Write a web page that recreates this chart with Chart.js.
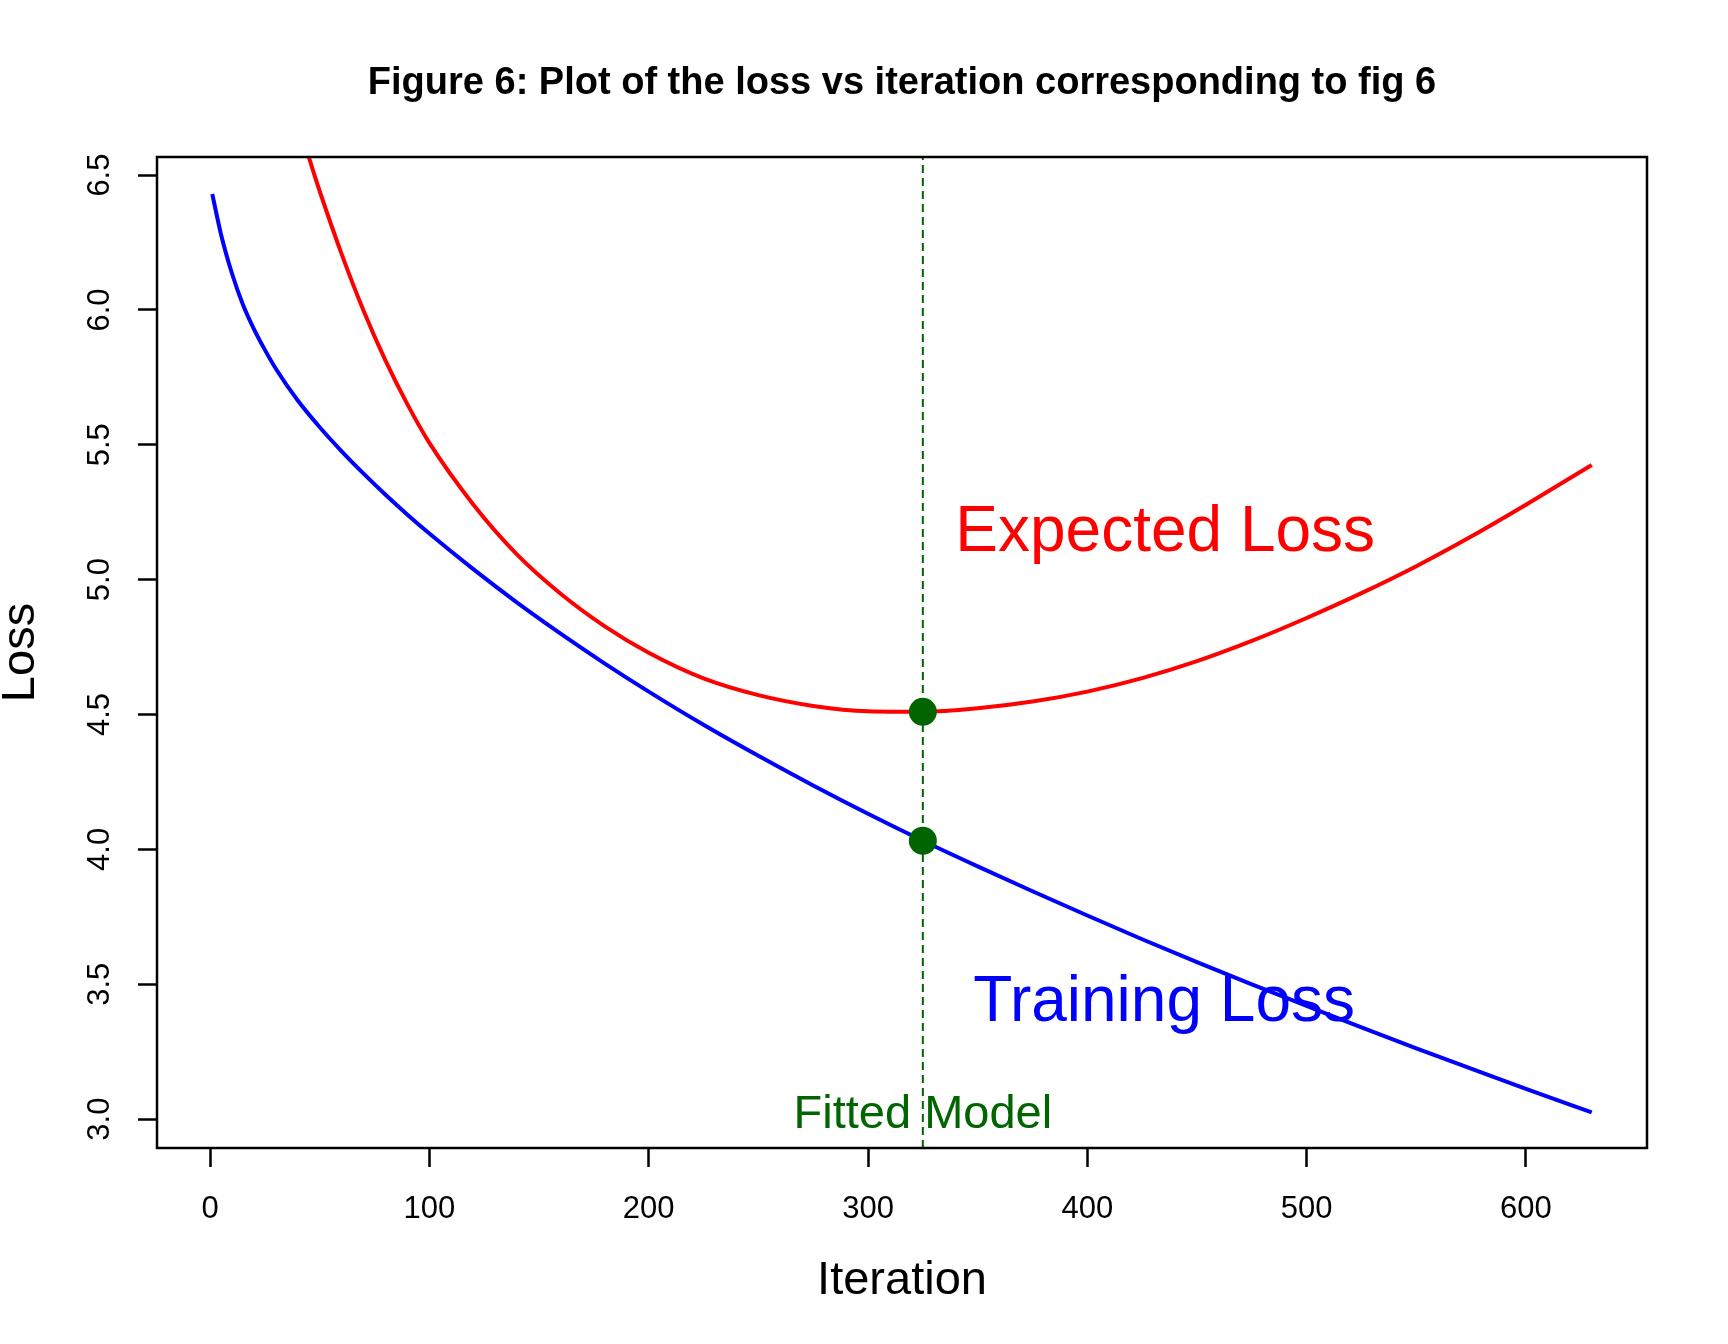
<!DOCTYPE html>
<html>
<head>
<meta charset="utf-8">
<title>Figure 6: loss vs iteration</title>
<script src="https://cdn.jsdelivr.net/npm/chart.js@4.4.1/dist/chart.umd.min.js"></script>
<style>
  html, body { margin: 0; padding: 0; background: #fff; }
  #wrap { width: 1728px; height: 1344px; }
</style>
</head>
<body>
<div id="wrap"><canvas id="loss-chart" width="1728" height="1344"></canvas></div>
<script>
// Values
const iterations = [1, 5, 10, 15, 20, 25, 30, 40, 50, 60, 70, 80, 90, 100, 120, 140, 160, 180, 200,
    225, 250, 275, 300, 325, 350, 375, 400, 425, 450, 475, 500, 525, 550, 575, 600, 630];
const trainingLoss = [6.43, 6.28, 6.135, 6.019, 5.929, 5.852, 5.782, 5.664, 5.565, 5.476, 5.393, 5.315,
    5.241, 5.171, 5.039, 4.915, 4.799, 4.689, 4.585, 4.462, 4.347, 4.237, 4.132, 4.032, 3.937, 3.845,
    3.755, 3.667, 3.582, 3.5, 3.42, 3.34, 3.262, 3.187, 3.112, 3.025];

// expected loss runs off the top of the plot before iteration ~45
const expectedIterations = [45, 50, 60, 70, 80, 90, 100, 120, 140, 160, 180, 200, 225, 250, 275, 300,
    325, 350, 375, 400, 425, 450, 475, 500, 525, 550, 575, 600, 630];
const expectedLoss = [6.567, 6.44, 6.207, 5.997, 5.812, 5.65, 5.507, 5.279, 5.093, 4.947, 4.827, 4.729,
    4.634, 4.572, 4.532, 4.512, 4.51, 4.523, 4.548, 4.585, 4.635, 4.698, 4.773, 4.858, 4.95, 5.05, 5.16,
    5.278, 5.425];

const fittedIteration = 325;
const fittedLoss = [4.51, 4.032];

const xTicks = [0, 100, 200, 300, 400, 500, 600];
const yTicks = [3.0, 3.5, 4.0, 4.5, 5.0, 5.5, 6.0, 6.5];

// axis limits (R style 4% extension around the training loss range)
const xLimits = [-24.2, 655.2];
const yLimits = [2.893, 6.567];

const FONT = '"Liberation Sans", Arial, sans-serif';
const DARKGREEN = '#006400';

// text() labels, centred on a point in data coordinates
const plotLabels = [
    { text: 'Expected Loss', x: 435.5, y: 5.193, color: '#FF0000', size: 64 },
    { text: 'Training Loss', x: 435, y: 3.45, color: '#0000FF', size: 64 },
    { text: 'Fitted Model', x: fittedIteration, y: 3.028, color: DARKGREEN, size: 47 }
];

function toPoints(xs, ys) {
    return xs.map((x, i) => ({ x: x, y: ys[i] }));
}

// box around the plot region
const boxPlugin = {
    id: 'plotBox',
    afterDatasetsDraw(chart) {
        const { ctx, chartArea: a } = chart;
        ctx.save();
        ctx.strokeStyle = '#000';
        ctx.lineWidth = 2.5;
        ctx.strokeRect(a.left, a.top, a.right - a.left, a.bottom - a.top);
        ctx.restore();
    }
};

const labelPlugin = {
    id: 'plotLabels',
    afterDraw(chart) {
        const { ctx, scales } = chart;
        ctx.save();
        ctx.textAlign = 'center';
        ctx.textBaseline = 'alphabetic';
        plotLabels.forEach(l => {
            ctx.font = l.size + 'px ' + FONT;
            ctx.fillStyle = l.color;
            // centre on cap height like R does
            const y = scales.y.getPixelForValue(l.y) + l.size * 0.358;
            ctx.fillText(l.text, scales.x.getPixelForValue(l.x), y);
        });
        ctx.restore();
    }
};

Chart.defaults.font.family = FONT;
Chart.defaults.color = '#000';

new Chart(document.getElementById('loss-chart'), {
    type: 'line',
    data: {
        datasets: [{
            label: 'Fitted points',
            data: fittedLoss.map(v => ({ x: fittedIteration, y: v })),
            showLine: false,
            pointRadius: 14,
            pointBackgroundColor: DARKGREEN,
            pointBorderWidth: 0,
            order: 0
        }, {
            label: 'Fitted model',
            data: [{ x: fittedIteration, y: yLimits[0] }, { x: fittedIteration, y: yLimits[1] }],
            borderColor: DARKGREEN,
            borderWidth: 2,
            borderDash: [8, 5],
            pointRadius: 0,
            order: 1
        }, {
            label: 'Expected Loss',
            data: toPoints(expectedIterations, expectedLoss),
            borderColor: '#FF0000',
            borderWidth: 4,
            pointRadius: 0,
            cubicInterpolationMode: 'monotone',
            order: 2
        }, {
            label: 'Training Loss',
            data: toPoints(iterations, trainingLoss),
            borderColor: '#0000FF',
            borderWidth: 4,
            pointRadius: 0,
            cubicInterpolationMode: 'monotone',
            order: 3
        }]
    },
    options: {
        responsive: false,
        devicePixelRatio: 1,
        animation: false,
        layout: {
            padding: { left: 0, right: 81, top: 0, bottom: 0 }
        },
        plugins: {
            legend: { display: false },
            tooltip: { enabled: false },
            title: {
                display: true,
                fullSize: false,
                text: 'Figure 6: Plot of the loss vs iteration corresponding to fig 6',
                color: '#000',
                font: { size: 38, weight: 'bold' },
                padding: { top: 61, bottom: 50.4 }
            }
        },
        scales: {
            x: {
                type: 'linear',
                min: xLimits[0],
                max: xLimits[1],
                afterBuildTicks: scale => { scale.ticks = xTicks.map(v => ({ value: v })); },
                afterFit: scale => { scale.height = 196; },
                border: { display: false },
                grid: {
                    drawOnChartArea: false,
                    drawTicks: true,
                    tickLength: 19,
                    tickWidth: 2.5,
                    tickColor: '#000'
                },
                ticks: {
                    font: { size: 31 },
                    padding: 24,
                    maxRotation: 0,
                    callback: v => String(v)
                },
                title: {
                    display: true,
                    text: 'Iteration',
                    font: { size: 47 },
                    padding: { top: 0, bottom: 35 }
                }
            },
            y: {
                type: 'linear',
                min: yLimits[0],
                max: yLimits[1],
                afterBuildTicks: scale => { scale.ticks = yTicks.map(v => ({ value: v })); },
                afterFit: scale => { scale.width = 157; },
                border: { display: false },
                grid: {
                    drawOnChartArea: false,
                    drawTicks: true,
                    tickLength: 19,
                    tickWidth: 2.5,
                    tickColor: '#000'
                },
                ticks: {
                    font: { size: 31 },
                    minRotation: 90,
                    maxRotation: 90,
                    crossAlign: 'center',
                    padding: 16,
                    callback: v => v.toFixed(1)
                },
                title: {
                    display: true,
                    text: 'Loss',
                    font: { size: 47, lineHeight: 1 },
                    padding: { top: -2, bottom: 0 }
                }
            }
        }
    },
    plugins: [boxPlugin, labelPlugin]
});
</script>
</body>
</html>
